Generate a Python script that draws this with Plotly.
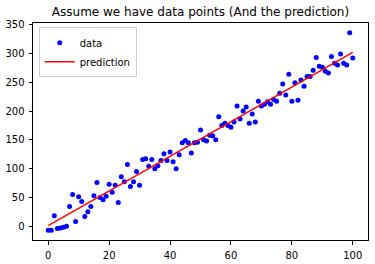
import plotly.graph_objects as go

x_data = list(range(101))
y_data = [
    -7, -7, 18, -4, -3, -2, 0, 34, 55, 8,
    51, 43, 17, 25, 34, 53, 76, 50, 46, 52,
    73, 59, 71, 41, 86, 77, 107, 69, 77, 95,
    71, 116, 117, 104, 116, 100, 105, 114, 126, 114,
    129, 112, 100, 124, 145, 149, 145, 127, 145, 146,
    167, 150, 148, 158, 157, 150, 190, 175, 179, 175,
    172, 181, 209, 186, 200, 207, 179, 195, 181, 217,
    209, 212, 216, 212, 220, 217, 231, 247, 228, 264,
    217, 249, 219, 254, 243, 260, 260, 271, 293, 278,
    276, 269, 266, 295, 283, 280, 299, 283, 280, 336,
    292,
]
pred_x = [0, 100]
pred_y = [1, 302]
x_ticks = [0, 20, 40, 60, 80, 100]
y_ticks = [0, 50, 100, 150, 200, 250, 300, 350]
title_text = "Assume we have data points (And the prediction)"

fig = go.Figure()
fig.add_trace(go.Scatter(
    x=x_data, y=y_data, mode="markers", name="data",
    marker=dict(color="#0000ff", size=5, line=dict(width=0)),
))
fig.add_trace(go.Scatter(
    x=pred_x, y=pred_y, mode="lines", name="prediction",
    line=dict(color="#ff0000", width=1.5),
))

axis_common = dict(
    showline=True, mirror=True, linecolor="black", linewidth=1,
    ticks="outside", ticklen=3.5, tickwidth=1, tickcolor="black",
    showgrid=False, zeroline=False, ticklabelstandoff=2, automargin=False,
    tickfont=dict(family="DejaVu Sans", size=10, color="black"),
)
fig.update_xaxes(range=[-5, 105], tickvals=x_ticks, **axis_common)
fig.update_yaxes(range=[-24, 353], tickvals=y_ticks, **axis_common)

fig.update_layout(
    width=375, height=264,
    margin=dict(l=33, r=7, t=23, b=24),
    paper_bgcolor="white", plot_bgcolor="white",
    title=dict(text=title_text, x=0.5, xref="paper", y=1 - 12 / 264,
               yref="container", yanchor="middle", xanchor="center",
               font=dict(family="DejaVu Sans", size=12, color="black")),
    legend=dict(x=0.017, y=0.98, xanchor="left", yanchor="top",
                bgcolor="white", bordercolor="#cccccc", borderwidth=1,
                font=dict(family="DejaVu Sans", size=10, color="black"),
                tracegroupgap=0),
    showlegend=True,
)

fig.write_html("out.html")
